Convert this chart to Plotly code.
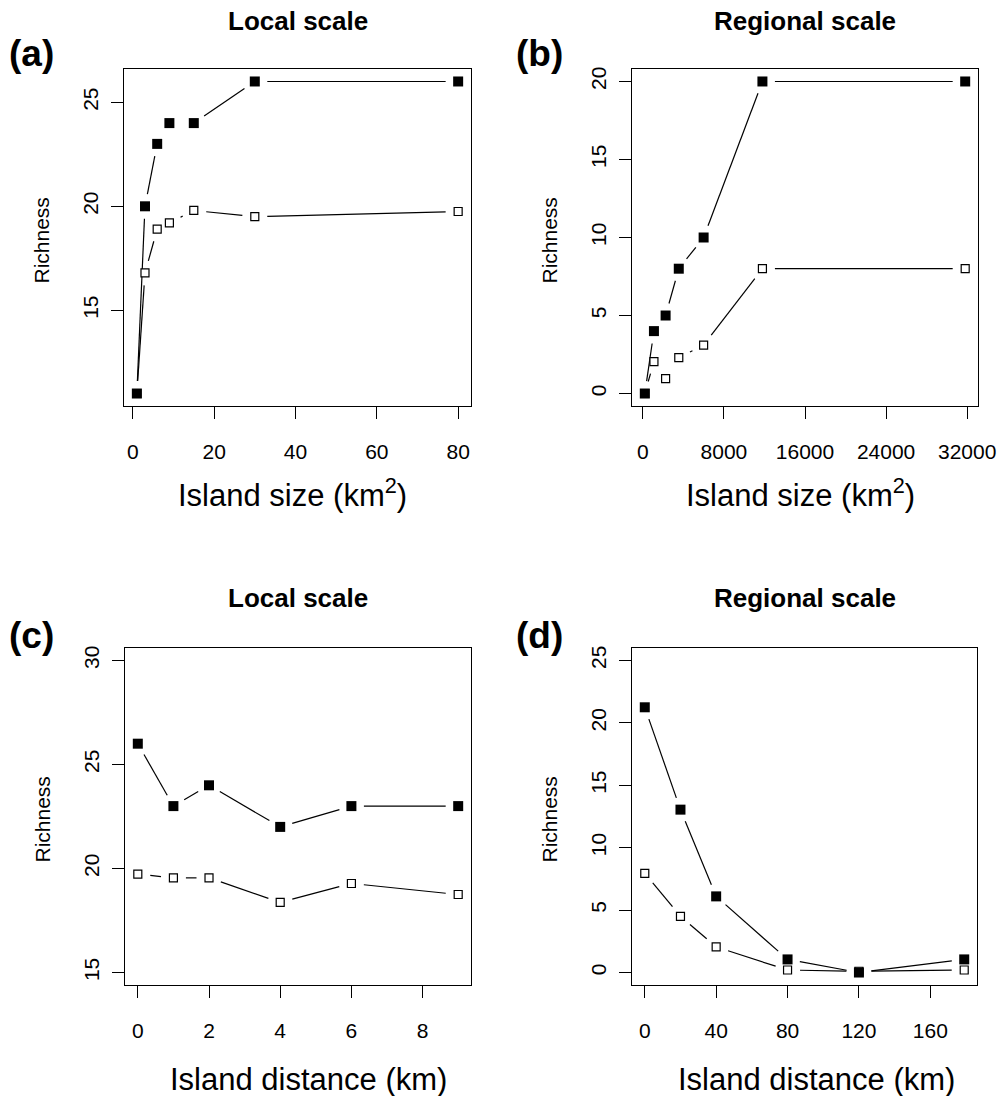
import math
import plotly.graph_objects as go

# ---------------- data ----------------
a_size = [1, 3, 6, 9, 15, 30, 80]
a_filled = [11, 20, 23, 24, 24, 26, 26]
a_open = [11, 16.8, 18.9, 19.2, 19.8, 19.5, 19.75]

b_size = [200, 1100, 2250, 3550, 6000, 11800, 31800]
b_filled = [0, 4, 5, 8, 10, 20, 20]
b_open = [0, 2.05, 0.95, 2.3, 3.1, 8, 8]

c_dist = [0, 1, 2, 4, 6, 9]
c_filled = [26, 23, 24, 22, 23, 23]
c_open = [19.73, 19.55, 19.55, 18.37, 19.28, 18.75]

d_dist = [0, 20, 40, 80, 120, 179]
d_filled = [21.25, 13.05, 6.1, 1.05, 0, 1.05]
d_open = [7.95, 4.5, 2.05, 0.2, 0.1, 0.2]

a_xticks = [0, 20, 40, 60, 80]
a_yticks = [15, 20, 25]
b_xticks = [0, 8000, 16000, 24000, 32000]
b_yticks = [0, 5, 10, 15, 20]
c_xticks = [0, 2, 4, 6, 8]
c_yticks = [15, 20, 25, 30]
d_xticks = [0, 40, 80, 120, 160]
d_yticks = [0, 5, 10, 15, 20, 25]

titles = ["Local scale", "Regional scale", "Local scale", "Regional scale"]
labels = ["(a)", "(b)", "(c)", "(d)"]
xtitles = ["Island size (km<sup>2</sup>)", "Island size (km<sup>2</sup>)",
           "Island distance (km)", "Island distance (km)"]
ytitle = "Richness"

# ---------------- layout geometry ----------------
W, H = 998, 1096
FONT = "Liberation Sans"


def px(x):
    return x / W


def py(y):
    return 1 - y / H


panels = [
    dict(x=a_size, f=a_filled, o=a_open, xlim=(1, 80), ylim=(11, 26),
         xt=a_xticks, yt=a_yticks, box=(124, 471, 69, 406), xt_dx=-5),
    dict(x=b_size, f=b_filled, o=b_open, xlim=(200, 31800), ylim=(0, 20),
         xt=b_xticks, yt=b_yticks, box=(632, 978, 69, 406), xt_dx=-5),
    dict(x=c_dist, f=c_filled, o=c_open, xlim=(0, 9), ylim=(15, 30),
         xt=c_xticks, yt=c_yticks, box=(125, 471, 648, 985), xt_dx=10),
    dict(x=d_dist, f=d_filled, o=d_open, xlim=(0, 179), ylim=(0, 25),
         xt=d_xticks, yt=d_yticks, box=(632, 977, 648, 985), xt_dx=12),
]

GAP = 12.5  # px gap around points (R type="b")


def rrange(lim):
    lo, hi = lim
    e = 0.04 * (hi - lo)
    return [lo - e, hi + e]


def gapped(xs, ys, xr, yr, wpx, hpx):
    sx = wpx / (xr[1] - xr[0])
    sy = hpx / (yr[1] - yr[0])
    lx, ly = [], []
    for i in range(len(xs) - 1):
        x0, y0, x1, y1 = xs[i], ys[i], xs[i + 1], ys[i + 1]
        dxp = (x1 - x0) * sx
        dyp = (y1 - y0) * sy
        d = math.hypot(dxp, dyp)
        if d <= 2 * GAP:
            continue
        f = GAP / d
        lx += [x0 + f * (x1 - x0), x1 - f * (x1 - x0), None]
        ly += [y0 + f * (y1 - y0), y1 - f * (y1 - y0), None]
    return lx, ly


fig = go.Figure()
annotations = []

for i, p in enumerate(panels):
    n = "" if i == 0 else str(i + 1)
    xa, ya = "x" + n, "y" + n
    l, r, t, b = p["box"]
    xr, yr = rrange(p["xlim"]), rrange(p["ylim"])
    wpx, hpx = r - l, b - t

    for ys, filled in ((p["o"], False), (p["f"], True)):
        lx, ly = gapped(p["x"], ys, xr, yr, wpx, hpx)
        fig.add_trace(go.Scatter(x=lx, y=ly, mode="lines", xaxis=xa, yaxis=ya,
                                 line=dict(color="black", width=1.2),
                                 showlegend=False, hoverinfo="skip"))
    for ys, filled in ((p["o"], False), (p["f"], True)):
        fig.add_trace(go.Scatter(
            x=p["x"], y=ys, mode="markers", xaxis=xa, yaxis=ya,
            marker=dict(symbol="square", size=10 if filled else 8,
                        color="black" if filled else "white",
                        line=dict(color="black", width=0 if filled else 1.2)),
            showlegend=False))

    axcommon = dict(showline=True, mirror=True, linecolor="black", linewidth=1.3,
                    ticks="outside", ticklen=12, tickwidth=1.3, tickcolor="black",
                    showgrid=False, zeroline=False, automargin=False,
                    tickfont=dict(family=FONT, size=21, color="black"))
    fig.update_layout(**{
        ("xaxis" + n): dict(domain=[px(l), px(r)], range=xr, tickmode="array",
                            tickvals=p["xt"], ticktext=[str(v) for v in p["xt"]],
                            anchor=ya, ticklabelstandoff=15, **axcommon),
        ("yaxis" + n): dict(domain=[py(b), py(t)], range=yr, tickmode="array",
                            tickvals=p["yt"], ticktext=[str(v) for v in p["yt"]],
                            anchor=xa, tickangle=-90, ticklabelstandoff=4, **axcommon),
    })

    cx = (l + r) / 2
    cy = (t + b) / 2
    top_title_y = 21 if i < 2 else 598
    lab_y = 53 if i < 2 else 635
    xt_y = 493 if i < 2 else 1079
    annotations += [
        dict(text="<b>" + titles[i] + "</b>", x=px(cx), y=py(top_title_y),
             font=dict(family=FONT, size=26, color="black")),
        dict(text="<b>" + labels[i] + "</b>", x=px(l - 93), y=py(lab_y),
             font=dict(family=FONT, size=37, color="black")),
        dict(text=xtitles[i], x=px(cx + p["xt_dx"]), y=py(xt_y),
             font=dict(family=FONT, size=31, color="black")),
        dict(text=ytitle, x=px(l - 83), y=py(cy + 3), textangle=-90,
             font=dict(family=FONT, size=21, color="black")),
    ]

for a in annotations:
    a.update(xref="paper", yref="paper", showarrow=False,
             xanchor="center", yanchor="middle")

fig.update_layout(width=W, height=H, margin=dict(l=0, r=0, t=0, b=0),
                  autosize=False,
                  paper_bgcolor="white", plot_bgcolor="white",
                  annotations=annotations)

fig.write_html(
    "out.html",
    config={"responsive": False, "displayModeBar": False},
    post_script="document.body.style.margin='0px';"
                "document.body.style.overflow='hidden';",
)
